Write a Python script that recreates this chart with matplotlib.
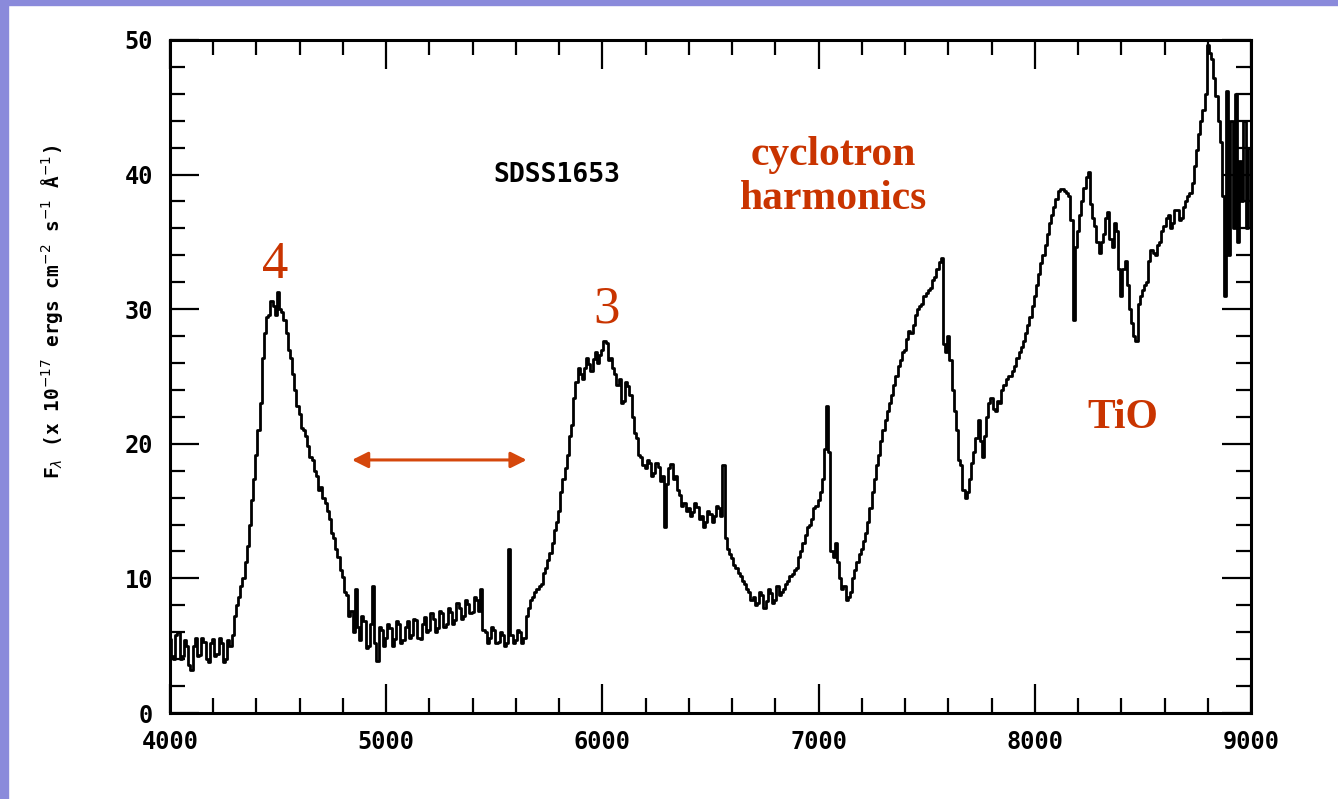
import numpy as np
import matplotlib
matplotlib.use('Agg')
import matplotlib.pyplot as plt
from matplotlib.patches import Rectangle
from matplotlib.ticker import MultipleLocator

# flux in units of 1e-17 erg/cm2/s/A, sampled every 10 A from 4000 A
wave_start = 4000
wave_step = 10
flux = [
    # 4000
    5.5, 4.2, 4.0, 5.8, 6.0, 4.0, 4.2, 5.4, 5.0, 3.6, 3.2, 5.0, 5.6, 4.2, 4.3, 5.6, 5.3, 4.0, 3.8, 5.2,
    # 4200
    5.5, 4.2, 4.4, 5.6, 5.2, 3.8, 4.0, 5.4, 5.0, 5.8, 7.2, 8.0, 8.6, 9.4, 10.0, 11.2, 12.4, 14.0, 15.8, 17.4,
    # 4400
    19.2, 21.0, 23.0, 26.4, 28.2, 29.4, 29.6, 30.6, 30.2, 29.6, 31.3, 30.0, 29.8, 29.2, 28.2, 27.0, 26.4, 25.2, 24.0, 22.8,
    # 4600
    22.2, 21.2, 21.0, 20.6, 19.8, 19.0, 18.8, 18.0, 17.6, 16.6, 16.8, 16.0, 15.6, 15.0, 14.4, 13.4, 13.0, 12.2, 11.6, 10.6,
    # 4800
    10.1, 9.0, 8.8, 7.2, 7.6, 6.0, 9.2, 6.4, 5.4, 7.2, 6.8, 4.8, 5.0, 6.6, 9.4, 5.2, 3.9, 6.4, 6.2, 5.0,
    # 5000
    5.6, 6.6, 6.3, 5.0, 5.5, 6.8, 6.6, 5.2, 5.4, 6.4, 6.8, 5.6, 5.8, 7.0, 6.9, 5.6, 5.5, 6.6, 7.1, 6.0,
    # 5200
    6.2, 7.4, 7.0, 6.0, 6.3, 7.6, 7.4, 6.4, 6.6, 7.8, 7.5, 6.6, 6.9, 8.2, 7.8, 7.0, 7.2, 8.4, 8.1, 7.4,
    # 5400
    7.5, 8.6, 8.4, 7.6, 9.2, 6.2, 6.0, 5.2, 5.6, 6.4, 6.2, 5.2, 5.3, 6.0, 5.8, 5.0, 5.2, 12.2, 5.8, 5.2,
    # 5600
    5.4, 6.2, 6.0, 5.2, 5.6, 7.2, 7.8, 8.4, 8.6, 9.0, 9.2, 9.4, 9.6, 10.4, 10.8, 11.4, 11.9, 12.6, 13.6, 14.2,
    # 5800
    15.0, 16.4, 17.4, 18.2, 19.2, 20.6, 21.4, 23.4, 24.6, 25.6, 25.2, 24.8, 25.6, 26.4, 25.9, 25.4, 26.3, 26.8, 26.0, 26.6,
    # 6000
    27.0, 27.6, 27.5, 26.2, 26.4, 25.6, 25.2, 24.4, 24.8, 23.0, 23.2, 24.6, 24.3, 23.6, 22.0, 20.8, 20.4, 19.2, 19.0, 18.4,
    # 6200
    18.2, 18.8, 18.6, 17.6, 17.8, 18.6, 18.3, 17.2, 17.6, 13.8, 17.0, 18.2, 18.5, 17.4, 17.6, 16.6, 16.2, 15.4, 15.6, 15.0,
    # 6400
    15.2, 14.6, 14.9, 15.6, 15.3, 14.4, 14.6, 13.8, 14.2, 15.0, 14.8, 14.2, 14.6, 15.4, 15.2, 14.6, 18.4, 13.0, 12.2, 11.8,
    # 6600
    11.5, 11.0, 10.8, 10.4, 10.2, 9.8, 9.6, 9.2, 9.0, 8.4, 8.6, 8.0, 8.2, 9.0, 8.8, 7.8, 8.3, 9.2, 8.9, 8.2,
    # 6800
    8.4, 9.4, 8.8, 9.0, 9.2, 9.6, 9.8, 10.2, 10.3, 10.6, 10.8, 11.6, 12.0, 12.6, 13.2, 13.8, 14.0, 14.4, 15.2, 15.4,
    # 7000
    15.8, 16.4, 17.4, 19.6, 22.8, 19.4, 12.0, 11.6, 12.6, 11.2, 10.0, 9.2, 9.4, 8.4, 8.6, 9.0, 10.0, 10.6, 11.2, 11.8,
    # 7200
    12.2, 12.8, 13.4, 14.2, 15.2, 16.4, 17.4, 18.4, 19.2, 20.2, 21.0, 21.8, 22.4, 23.0, 23.6, 24.4, 25.0, 25.8, 26.2, 26.8,
    # 7400
    27.0, 27.8, 28.4, 28.2, 28.8, 29.6, 30.0, 30.2, 30.4, 31.0, 31.2, 31.4, 31.6, 32.2, 32.4, 33.0, 33.5, 33.8, 27.4, 26.8,
    # 7600
    28.0, 26.2, 24.0, 22.4, 21.0, 18.8, 18.4, 16.6, 16.0, 16.4, 17.4, 18.6, 19.4, 20.4, 21.8, 20.2, 19.0, 20.6, 22.0, 23.0,
    # 7800
    23.4, 22.6, 22.4, 23.2, 23.0, 24.0, 24.4, 24.8, 25.0, 25.0, 25.4, 25.8, 26.4, 26.8, 27.2, 27.6, 28.2, 28.8, 29.4, 30.2,
    # 8000
    31.0, 31.8, 32.6, 33.4, 34.0, 34.8, 35.6, 36.4, 37.0, 37.6, 38.2, 38.8, 38.9, 38.9, 38.8, 38.6, 38.4, 36.6, 29.2, 34.6,
    # 8200
    35.8, 37.0, 38.0, 39.0, 39.8, 40.2, 37.8, 36.8, 36.2, 35.0, 34.2, 35.0, 35.6, 36.8, 37.2, 35.2, 34.6, 36.4, 35.8, 33.0,
    # 8400
    31.0, 33.0, 33.6, 31.8, 30.0, 29.0, 28.0, 27.6, 30.4, 31.0, 31.4, 31.8, 32.0, 33.6, 34.4, 34.2, 34.0, 34.8, 35.0, 35.8,
    # 8600
    36.2, 36.8, 37.0, 36.0, 36.4, 37.4, 37.4, 36.6, 36.8, 37.6, 38.0, 38.4, 38.6, 39.4, 40.6, 41.8, 43.0, 44.0, 44.8, 46.0,
    # 8800
    49.6, 49.0, 48.6, 47.2, 45.8, 44.0, 42.4, 38.4, 31.0, 46.2, 34.0, 44.0, 36.0, 46.0, 35.0, 41.0, 38.0, 44.0, 36.0, 42.0,
]
wave = wave_start + wave_step * np.arange(len(flux))

x_ticks = [4000, 5000, 6000, 7000, 8000, 9000]
y_ticks = [0, 10, 20, 30, 40, 50]

red = '#C93400'
mono = 'DejaVu Sans Mono'
serif = 'Liberation Serif'

fig = plt.figure(figsize=(13.38, 7.99), dpi=100)
ax = fig.add_axes([0.127, 0.1076, 0.808, 0.8424])

ax.plot(wave, flux, drawstyle='steps-mid', color='black', lw=2.0)

ax.set_xlim(4000, 9000)
ax.set_ylim(0, 50)
ax.set_xticks(x_ticks)
ax.set_yticks(y_ticks)
ax.xaxis.set_minor_locator(MultipleLocator(200))
ax.yaxis.set_minor_locator(MultipleLocator(2))
ax.tick_params(which='both', direction='in', top=True, right=True, width=1.6)
ax.tick_params(which='major', length=21, pad=12)
ax.tick_params(which='minor', length=11)
for lab in ax.get_xticklabels() + ax.get_yticklabels():
    lab.set_fontfamily(mono)
    lab.set_fontweight('bold')
    lab.set_fontsize(17)
for s in ax.spines.values():
    s.set_linewidth(2.2)

ax.set_ylabel(r'F$_\lambda$ (x 10$^{-17}$ ergs cm$^{-2}$ s$^{-1}$ Å$^{-1}$)',
              fontfamily=mono, fontweight='bold', fontsize=14)
ax.yaxis.set_label_coords(-0.097, 0.596)

ax.text(5494, 40.0, 'SDSS1653', fontfamily=mono, fontweight='bold',
        fontsize=19, ha='left', va='center')
ax.text(7067, 39.8, 'cyclotron\nharmonics', fontfamily=serif, fontweight='bold',
        fontsize=30, color=red, ha='center', va='center', linespacing=1.2)
ax.text(8408, 21.9, 'TiO', fontfamily=serif, fontweight='bold',
        fontsize=30, color=red, ha='center', va='center')
ax.text(4486, 33.3, '4', fontfamily=serif, fontsize=38, color=red,
        ha='center', va='center')
ax.text(6017, 30.0, '3', fontfamily=serif, fontsize=38, color=red,
        ha='center', va='center')

ax.annotate('', xy=(4842, 18.8), xytext=(5650, 18.8),
            arrowprops=dict(arrowstyle='<|-|>', color='#D5470C', lw=2.2,
                            mutation_scale=24, shrinkA=0, shrinkB=0))

# slide border
fig.patches.append(Rectangle((0, 0), 8 / 1338, 1, transform=fig.transFigure,
                             color='#8A8ADB', zorder=0))
fig.patches.append(Rectangle((0, 1 - 5 / 799), 1, 5 / 799, transform=fig.transFigure,
                             color='#8A8ADB', zorder=0))

fig.savefig('out.png', dpi=100)
